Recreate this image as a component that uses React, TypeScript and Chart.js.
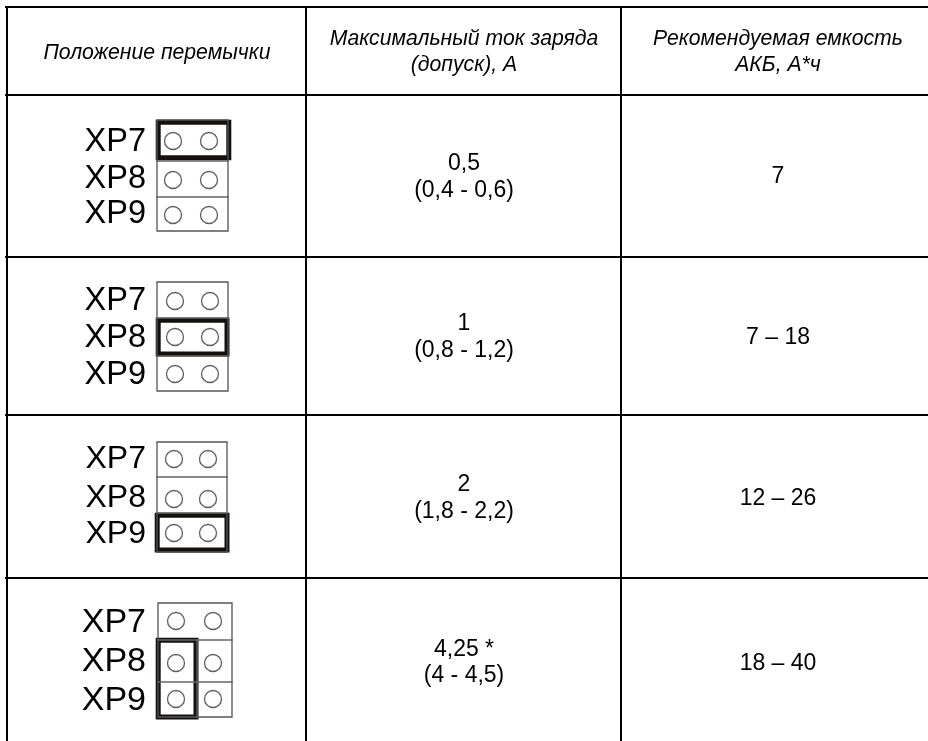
import React, { useEffect, useRef } from "react";
import { Chart, registerables } from "chart.js";

Chart.register(...registerables);

// ---- table content ----
const headers = [
  ["Положение перемычки"],
  ["Максимальный ток заряда", "(допуск), А"],
  ["Рекомендуемая емкость", "АКБ, А*ч"],
];
const connectors = ["XP7", "XP8", "XP9"];
const maxCurrent = ["0,5", "1", "2", "4,25 *"];
const tolerance = ["(0,4 - 0,6)", "(0,8 - 1,2)", "(1,8 - 2,2)", "(4 - 4,5)"];
const capacity = ["7", "7 – 18", "12 – 26", "18 – 40"];

// ---- layout (table grid and jumper drawings, in page units) ----
const W = 928;
const H = 741;
const gridX = [7, 306, 621];
const gridY = [7, 95, 257, 415, 578];
const colCenter = [157, 464, 778];
const headerBase = [[59], [45, 71], [45, 71]];
const valueBase = [[170, 197], [330, 357], [491, 518], [656, 682]];
const capBase = [183, 344, 505, 670];

const blocks = [
  { x: [157, 228], y: [120, 161, 197, 231], px: [173, 209], py: [141, 180, 215], j: [158.2, 122.2, 228.8, 157.8], base: [151, 188, 223], right: 146, size: 32.5 },
  { x: [157, 228], y: [282, 318, 356, 391], px: [175, 210], py: [301, 337, 374], j: [158.2, 320.2, 227, 354], base: [310, 347, 384], right: 146, size: 32.5 },
  { x: [157, 227], y: [442, 477, 513, 552], px: [174, 208], py: [459, 499, 533], j: [157.2, 515.2, 227, 550], base: [468, 507, 543], right: 146, size: 32 },
  { x: [158, 232], y: [603, 640, 682, 717], px: [176, 213], py: [621, 663, 699], j: [158.2, 640.2, 196, 717], base: [632, 671, 710], right: 146, size: 34, split: 197 },
];

const FONT = '"Liberation Sans", Arial, sans-serif';

const seg = (pts: number[][], color: string, width: number) => ({
  type: "line" as const,
  data: pts.map(([x, y]) => ({ x, y })),
  borderColor: color,
  borderWidth: width,
  pointRadius: 0,
  tension: 0,
  fill: false,
  clip: false,
  borderCapStyle: "square" as const,
  borderJoinStyle: "miter" as const,
});

function buildDatasets() {
  const ds: any[] = [];
  // table rules
  for (const y of gridY) ds.push(seg([[gridX[0] - 1, y], [W, y]], "#000000", 2));
  for (const x of gridX) ds.push(seg([[x, gridY[0]], [x, H]], "#000000", 2));
  // jumper blocks
  for (const b of blocks) {
    const [x0, x1] = b.x;
    const [y0, , , y3] = b.y;
    ds.push(seg([[x0, y0], [x1, y0], [x1, y3], [x0, y3], [x0, y0]], "#555555", 1.3));
    ds.push(seg([[x0, b.y[1]], [x1, b.y[1]]], "#666666", 1.3));
    ds.push(seg([[x0, b.y[2]], [x1, b.y[2]]], "#666666", 1.3));
    if (b.split) ds.push(seg([[b.split, b.y[1]], [b.split, y3]], "#666666", 1.3));
    const [a, c, d, e] = b.j;
    ds.push(seg([[a, c], [d, c], [d, e], [a, e], [a, c]], "#151010", 5));
    const pts: { x: number; y: number }[] = [];
    for (const y of b.py) for (const x of b.px) pts.push({ x, y });
    ds.push({
      type: "scatter" as const,
      data: pts,
      pointStyle: "circle",
      pointRadius: 8.5,
      pointBackgroundColor: "#ffffff",
      pointBorderColor: "#5f5f5f",
      pointBorderWidth: 1.3,
      showLine: false,
    });
  }
  return ds;
}

const textPlugin = {
  id: "tableText",
  afterDatasetsDraw(chart: any) {
    const { ctx, scales } = chart;
    const sx = (v: number) => scales.x.getPixelForValue(v);
    const sy = (v: number) => scales.y.getPixelForValue(v);
    const put = (t: string, x: number, y: number, font: string, align: CanvasTextAlign) => {
      ctx.font = font;
      ctx.textAlign = align;
      ctx.textBaseline = "alphabetic";
      ctx.fillStyle = "#000000";
      ctx.fillText(t, sx(x), sy(y));
    };
    ctx.save();
    headers.forEach((lines, c) =>
      lines.forEach((t, i) =>
        put(t, colCenter[c], headerBase[c][i], `italic 21.2px ${FONT}`, "center")
      )
    );
    maxCurrent.forEach((t, r) => {
      put(t, colCenter[1], valueBase[r][0], `23px ${FONT}`, "center");
      put(tolerance[r], colCenter[1], valueBase[r][1], `23px ${FONT}`, "center");
      put(capacity[r], colCenter[2], capBase[r], `23px ${FONT}`, "center");
    });
    blocks.forEach((b) =>
      connectors.forEach((t, i) =>
        put(t, b.right, b.base[i], `${b.size}px ${FONT}`, "right")
      )
    );
    ctx.restore();
  },
};

export default function App() {
  const ref = useRef<HTMLCanvasElement>(null);
  useEffect(() => {
    const chart = new Chart(ref.current as HTMLCanvasElement, {
      type: "scatter",
      data: { datasets: buildDatasets() },
      options: {
        animation: false,
        responsive: false,
        maintainAspectRatio: false,
        layout: { padding: 0, autoPadding: false },
        plugins: { legend: { display: false }, tooltip: { enabled: false } },
        scales: {
          x: { type: "linear", min: 0, max: W, display: false },
          y: { type: "linear", min: 0, max: H, reverse: true, display: false },
        },
      },
      plugins: [textPlugin],
    } as any);
    return () => chart.destroy();
  }, []);
  return (
    <div style={{ position: "fixed", left: 0, top: 0, width: W, height: H, background: "#fff" }}>
      <canvas ref={ref} width={W} height={H} style={{ display: "block", width: W, height: H }} />
    </div>
  );
}
